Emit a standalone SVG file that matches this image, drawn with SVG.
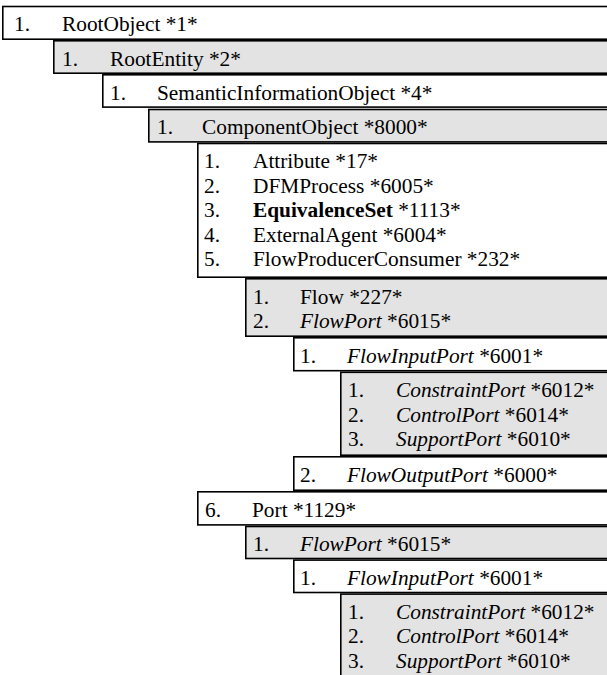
<svg xmlns="http://www.w3.org/2000/svg" width="607" height="675" viewBox="0 0 607 675">
<style>
  .box { stroke: #000; stroke-width: 1.6; }
  .w { fill: #ffffff; }
  .g { fill: #e3e3e3; }
  text { font-family: "Liberation Serif", "Times New Roman", serif; font-size: 21.33px; fill: #000; }
  .i { font-style: italic; }
  .b { font-weight: bold; }
</style>
<rect x="0" y="0" width="607" height="675" fill="#fff"/>
<g id="nodes">
  <g id="n-rootobject">
    <rect class="box w" x="2.8" y="6.5" width="620" height="32.7"/>
    <text x="14" y="30.5">1.</text><text x="62" y="30.5">RootObject *1*</text>
  </g>
  <g id="n-rootentity">
    <rect class="box g" x="53.8" y="40.8" width="620" height="32.4"/>
    <text x="62" y="65.5">1.</text><text x="110" y="65.5">RootEntity *2*</text>
  </g>
  <g id="n-semanticinformationobject">
    <rect class="box w" x="102.8" y="74.8" width="620" height="32.3"/>
    <text x="110" y="99.5">1.</text><text x="157" y="99.5">SemanticInformationObject *4*</text>
  </g>
  <g id="n-componentobject">
    <rect class="box g" x="148.8" y="109.5" width="620" height="32.4"/>
    <text x="157" y="134.2">1.</text><text x="202" y="134.2">ComponentObject *8000*</text>
  </g>
  <g id="n-componentobject-children">
    <rect class="box w" x="197.8" y="143.5" width="620" height="133.7"/>
    <text x="204" y="168.2">1.</text><text x="253" y="168.2">Attribute *17*</text>
    <text x="204" y="192.7">2.</text><text x="253" y="192.7">DFMProcess *6005*</text>
    <text x="204" y="217.2">3.</text><text x="253" y="217.2"><tspan class="b">EquivalenceSet</tspan> *1113*</text>
    <text x="204" y="241.7">4.</text><text x="253" y="241.7">ExternalAgent *6004*</text>
    <text x="204" y="266.2">5.</text><text x="253" y="266.2">FlowProducerConsumer *232*</text>
  </g>
  <g id="n-flowproducerconsumer-children">
    <rect class="box g" x="245.8" y="278.8" width="620" height="57.4"/>
    <text x="253" y="303.5">1.</text><text x="300" y="303.5">Flow *227*</text>
    <text x="253" y="328">2.</text><text x="300" y="328"><tspan class="i">FlowPort</tspan> *6015*</text>
  </g>
  <g id="n-flowinputport-1">
    <rect class="box w" x="293.8" y="337.8" width="620" height="32.9"/>
    <text x="300" y="362.5">1.</text><text x="347" y="362.5"><tspan class="i">FlowInputPort</tspan> *6001*</text>
  </g>
  <g id="n-flowinputport-1-children">
    <rect class="box g" x="340.8" y="372.3" width="620" height="82.9"/>
    <text x="348" y="397">1.</text><text x="396" y="397"><tspan class="i">ConstraintPort</tspan> *6012*</text>
    <text x="348" y="421.5">2.</text><text x="396" y="421.5"><tspan class="i">ControlPort</tspan> *6014*</text>
    <text x="348" y="446">3.</text><text x="396" y="446"><tspan class="i">SupportPort</tspan> *6010*</text>
  </g>
  <g id="n-flowoutputport">
    <rect class="box w" x="293.8" y="456.8" width="620" height="33.4"/>
    <text x="300" y="481.5">2.</text><text x="347" y="481.5"><tspan class="i">FlowOutputPort</tspan> *6000*</text>
  </g>
  <g id="n-port">
    <rect class="box w" x="197.8" y="491.8" width="620" height="33.1"/>
    <text x="205" y="516.5">6.</text><text x="252" y="516.5">Port *1129*</text>
  </g>
  <g id="n-flowport-2">
    <rect class="box g" x="245.8" y="526.5" width="620" height="32"/>
    <text x="253" y="551.2">1.</text><text x="300" y="551.2"><tspan class="i">FlowPort</tspan> *6015*</text>
  </g>
  <g id="n-flowinputport-2">
    <rect class="box w" x="293.8" y="560.1" width="620" height="32.4"/>
    <text x="300" y="584.8">1.</text><text x="347" y="584.8"><tspan class="i">FlowInputPort</tspan> *6001*</text>
  </g>
  <g id="n-flowinputport-2-children">
    <rect class="box g" x="340.8" y="594.1" width="620" height="120"/>
    <text x="348" y="618.8">1.</text><text x="396" y="618.8"><tspan class="i">ConstraintPort</tspan> *6012*</text>
    <text x="348" y="643.3">2.</text><text x="396" y="643.3"><tspan class="i">ControlPort</tspan> *6014*</text>
    <text x="348" y="667.8">3.</text><text x="396" y="667.8"><tspan class="i">SupportPort</tspan> *6010*</text>
  </g>
</g>
<g id="connectors"></g>
</svg>
